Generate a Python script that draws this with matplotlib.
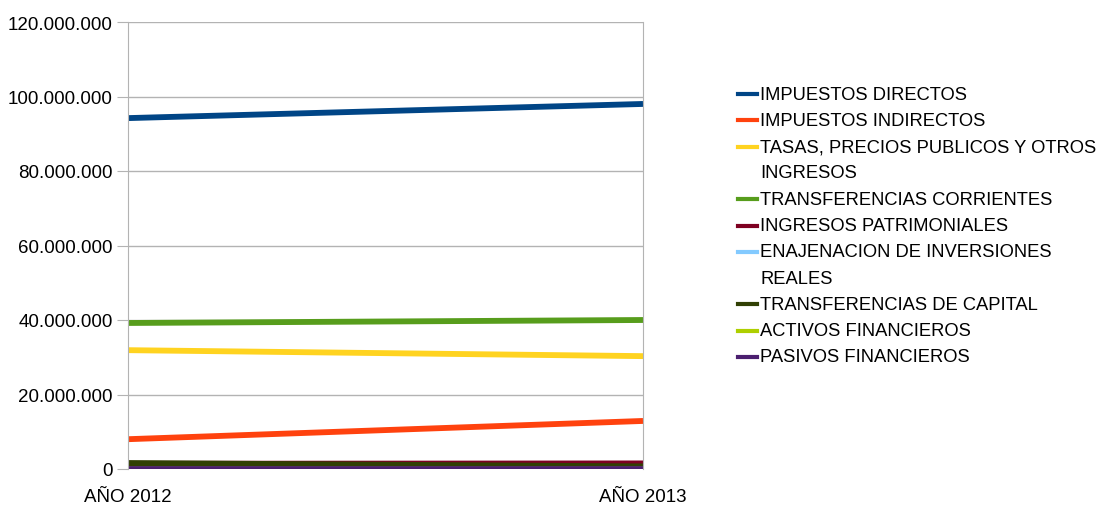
import matplotlib.pyplot as plt
from matplotlib.lines import Line2D
from matplotlib.ticker import FuncFormatter

plt.rcParams['font.family'] = ['Liberation Sans', 'DejaVu Sans']

years = ['AÑO 2012', 'AÑO 2013']
series_names = [
    'IMPUESTOS DIRECTOS',
    'IMPUESTOS INDIRECTOS',
    'TASAS, PRECIOS PUBLICOS Y OTROS\nINGRESOS',
    'TRANSFERENCIAS CORRIENTES',
    'INGRESOS PATRIMONIALES',
    'ENAJENACION DE INVERSIONES\nREALES',
    'TRANSFERENCIAS DE CAPITAL',
    'ACTIVOS FINANCIEROS',
    'PASIVOS FINANCIEROS',
]
impuestos_directos = [94200000, 98000000]
impuestos_indirectos = [8000000, 12900000]
tasas_precios = [31900000, 30300000]
transf_corrientes = [39200000, 40000000]
ingresos_patrimoniales = [1400000, 1500000]
enajenacion = [0, 0]
transf_capital = [1600000, 700000]
activos_fin = [100000, 100000]
pasivos_fin = [0, 0]
series_values = [impuestos_directos, impuestos_indirectos, tasas_precios,
                 transf_corrientes, ingresos_patrimoniales, enajenacion,
                 transf_capital, activos_fin, pasivos_fin]
colors = ['#004586', '#ff420e', '#ffd320', '#579d1c', '#7e0021',
          '#83caff', '#314004', '#aecf00', '#4b1f6f']
y_ticks = [0, 20000000, 40000000, 60000000, 80000000, 100000000, 120000000]

fig = plt.figure(figsize=(11.03, 5.06), dpi=100)
ax = fig.add_axes([128 / 1103, 1 - 470 / 506, 515 / 1103, 447 / 506])

x = list(range(len(years)))
for vals, c in zip(series_values, colors):
    ax.plot(x, vals, color=c, linewidth=4.2, solid_capstyle='butt')

ax.set_xlim(0, 1)
ax.set_ylim(0, 120000000)
ax.set_yticks(y_ticks)
ax.yaxis.set_major_formatter(FuncFormatter(lambda v, p: f'{int(v):,}'.replace(',', '.')))
ax.set_xticks(x)
ax.set_xticklabels(years)
ax.grid(axis='y', color='#b3b3b3', linewidth=1)
ax.set_axisbelow(True)
for s in ['top', 'bottom']:
    ax.spines[s].set_visible(False)
for s in ['left', 'right']:
    ax.spines[s].set_color('#b3b3b3')
ax.tick_params(axis='y', length=8, color='#b3b3b3', labelsize=13.5, pad=3)
ax.tick_params(axis='x', length=0, labelsize=13.5, pad=14)

# legend drawn line by line
row_h = 26.3 / 506
y0 = 1 - 95 / 506
row = 0
for name, c in zip(series_names, colors):
    yy = y0 - row * row_h
    fig.add_artist(Line2D([738 / 1103, 757 / 1103], [yy, yy], color=c, linewidth=3,
                          transform=fig.transFigure))
    for i, part in enumerate(name.split('\n')):
        fig.text(760 / 1103, yy - i * row_h, part, fontsize=13.2, va='center', ha='left')
    row += len(name.split('\n'))

fig.savefig('out.png', dpi=100)
